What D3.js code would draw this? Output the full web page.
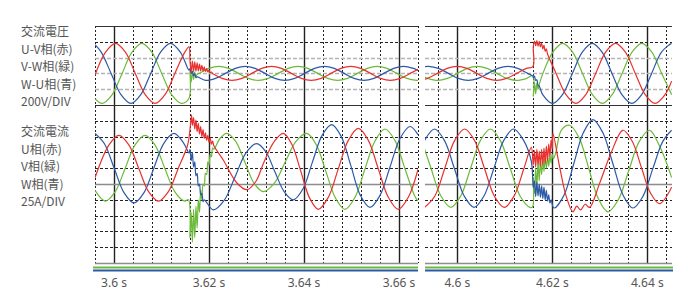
<!DOCTYPE html>
<html><head><meta charset="utf-8">
<script src="https://cdn.jsdelivr.net/npm/d3@7"></script>
<style>body{margin:0;background:#fff}svg{display:block}</style>
</head><body><svg id="c" width="688" height="300"></svg>
<script>
// ---------- DATA (time in s, voltage in V, current in A) ----------
const voltageLabels = ["交流電圧","U-V相(赤)","V-W相(緑)","W-U相(青)","200V/DIV"];
const currentLabels = ["交流電流","U相(赤)","V相(緑)","W相(青)","25A/DIV"];
const tickLabelsLeft = [3.60,3.62,3.64,3.66];
const tickLabelsRight = [4.60,4.62,4.64];

// Left window, voltages
const vUV_L = [[3.5960,-21],[3.59823,269],[3.60032,380],[3.60240,269],[3.60448,0],[3.60657,-269],[3.60865,-380],[3.61074,-269],[3.61282,0],[3.61491,269],[3.61579,335],
[3.61600,164],[3.61625,17],[3.61650,157],[3.61675,24],[3.61700,147],[3.61725,29],[3.61750,134],[3.61775,31],[3.61800,119],[3.61825,31],[3.61850,102],[3.61875,29],[3.61900,83],[3.61925,25],[3.61950,62],[3.61975,19],[3.62000,39],[3.62025,10],[3.62050,17],[3.62075,-1],[3.62100,-10],
[3.62276,-63],[3.62484,-89],[3.62693,-63],[3.62901,0],[3.63109,63],[3.63318,89],[3.63526,63],[3.63735,0],[3.63943,-63],[3.64152,-89],[3.64360,-63],[3.64568,0],[3.64777,63],[3.64985,89],[3.65194,63],[3.65402,0],[3.65611,-63],[3.65819,-89],[3.66027,-63],[3.66236,0],[3.66400,52]];
const vVW_L = [[3.5960,-319],[3.59754,-380],[3.59962,-269],[3.60171,0],[3.60379,269],[3.60587,380],[3.60796,269],[3.61004,0],[3.61213,-269],[3.61421,-380],[3.61579,-315],
[3.61600,40],[3.61625,-110],[3.61650,25],[3.61675,-75],[3.61700,15],[3.61725,-45],[3.61750,-10],
[3.61789,0],[3.61998,63],[3.62206,89],[3.62415,63],[3.62623,0],[3.62831,-63],[3.63040,-89],[3.63248,-63],[3.63457,0],[3.63665,63],[3.63874,89],[3.64082,63],[3.64290,0],[3.64499,-63],[3.64707,-89],[3.64916,-63],[3.65124,0],[3.65332,63],[3.65541,89],[3.65749,63],[3.65958,0],[3.66166,-63],[3.66375,-89],[3.66400,-89]];
const vWU_L = [[3.5960,363],[3.59731,269],[3.59939,0],[3.60147,-269],[3.60356,-380],[3.60564,-269],[3.60773,0],[3.60981,269],[3.61189,380],[3.61397,269],[3.61579,40],
[3.61600,60],[3.61625,0],[3.61650,30],[3.61675,-30],[3.61700,-5],[3.61725,-55],[3.61750,-45],
[3.61928,-89],[3.62137,-63],[3.62345,0],[3.62554,63],[3.62762,89],[3.62971,63],[3.63179,0],[3.63387,-63],[3.63596,-89],[3.63804,-63],[3.64013,0],[3.64221,63],[3.64429,89],[3.64638,63],[3.64846,0],[3.65055,-63],[3.65263,-89],[3.65471,-63],[3.65680,0],[3.65888,63],[3.66097,89],[3.66305,63],[3.66400,38]];

// Left window, currents
const iU_L = [[3.5960,-15],[3.59895,37],[3.60103,52],[3.60312,37],[3.60520,0],[3.60728,-37],[3.60937,-52],[3.61145,-37],[3.61354,0],[3.61540,34],[3.61579,48],[3.61611,70],[3.61632,84],
[3.6165,68],[3.61675,80],[3.617,62],[3.61725,76],[3.6175,58],[3.61775,71],[3.618,54],[3.61825,66],[3.6185,50],[3.61875,61],[3.619,47],[3.61925,56],[3.6195,44],[3.61975,52],[3.62,41],[3.62025,48],[3.6205,38],[3.62075,43],[3.621,36],
[3.62301,13],[3.62583,-23],[3.62794,-34],[3.62986,-21],[3.63158,10],[3.63372,42],[3.63564,55],[3.63748,37],[3.63933,-5],[3.64117,-47],[3.64301,-65],[3.64512,-46],[3.64722,-1],[3.64933,44],[3.65143,63],[3.65354,44],[3.65564,-1],[3.65775,-46],[3.65985,-65],[3.66196,-46],[3.664,-2]];
const iV_L = [[3.5960,-35],[3.59819,-52],[3.60027,-37],[3.60236,0],[3.60444,37],[3.60653,52],[3.60861,37],[3.61069,0],[3.61278,-37],[3.61486,-52],[3.61568,-50],
[3.6160,-110],[3.61625,-70],[3.6165,-117],[3.61675,-65],[3.617,-110],[3.61725,-60],[3.6175,-95],[3.61775,-50],[3.618,-70],[3.61825,-35],[3.6185,-50],[3.61875,-25],[3.619,-28],[3.61925,-8],[3.6195,-10],[3.61975,10],[3.62,5],[3.62025,22],[3.6205,18],[3.62075,32],[3.621,30],
[3.62232,47],[3.62373,55],[3.62565,42],[3.62758,9],[3.62951,-24],[3.63143,-37],[3.63372,-24],[3.636,9],[3.63828,42],[3.64057,55],[3.64259,37],[3.6446,-5],[3.64661,-47],[3.64863,-65],[3.65074,-46],[3.65284,-1],[3.65495,43],[3.65705,62],[3.65914,44],[3.66122,0],[3.66331,-44],[3.664,-52]];
const iW_L = [[3.5960,55],[3.59796,39],[3.60004,0],[3.60213,-39],[3.60421,-55],[3.60629,-39],[3.60838,0],[3.61046,39],[3.61263,55],[3.61472,39],[3.61579,24],
[3.616,30],[3.61625,12],[3.6165,25],[3.61675,2],[3.617,10],[3.61725,-12],[3.6175,-8],[3.61775,-28],[3.618,-25],[3.61825,-42],[3.6185,-40],[3.61875,-53],[3.619,-50],
[3.62091,-66],[3.62319,-51],[3.62547,-14],[3.62776,24],[3.63004,39],[3.63197,26],[3.63389,-6],[3.63582,-37],[3.63775,-50],[3.63977,-33],[3.64179,10],[3.64381,52],[3.64583,69],[3.64785,50],[3.64986,4],[3.65187,-43],[3.65389,-62],[3.656,-43],[3.65811,2],[3.66021,47],[3.66232,66],[3.664,53]];

// Right window, voltages
const vUV_R = [[4.59312,-75],[4.59371,-63],[4.59579,0],[4.59787,63],[4.59996,89],[4.60204,63],[4.60413,0],[4.60621,-63],[4.60829,-89],[4.61038,-63],[4.61246,0],[4.61455,63],[4.61592,86],
[4.616,340],[4.61625,410],[4.6165,350],[4.61675,415],[4.617,345],[4.61725,405],[4.6175,335],[4.61775,385],[4.618,310],[4.61825,355],[4.6185,280],[4.61875,310],[4.619,245],
[4.6208,0],[4.62288,-269],[4.62497,-380],[4.62705,-269],[4.62914,0],[4.63122,269],[4.63331,380],[4.63539,269],[4.63747,0],[4.63956,-269],[4.64164,-380],[4.64373,-269],[4.64512,-98]];
const vVW_R = [[4.59312,-46],[4.59377,-63],[4.59585,-89],[4.59794,-63],[4.60002,0],[4.60211,63],[4.60419,89],[4.60627,63],[4.60836,0],[4.61044,-63],[4.61253,-89],[4.61461,-63],[4.61592,-28],
[4.616,-290],[4.61625,-110],[4.6165,-260],[4.61675,-120],[4.617,-200],[4.61725,-140],
[4.61802,0],[4.62011,269],[4.62219,380],[4.62427,269],[4.62636,0],[4.62844,-269],[4.63053,-380],[4.63261,-269],[4.63469,0],[4.63678,269],[4.63886,380],[4.64095,269],[4.64303,0],[4.64512,-269]];
const vWU_R = [[4.59312,85],[4.59396,89],[4.59604,63],[4.59813,0],[4.60021,-63],[4.60229,-89],[4.60438,-63],[4.60646,0],[4.60855,63],[4.61063,89],[4.61272,63],[4.6148,0],[4.61592,-36],
[4.616,-55],[4.61625,-35],[4.6165,-90],[4.61675,-80],[4.617,-150],[4.61725,-160],
[4.61798,-269],[4.62006,-380],[4.62215,-269],[4.62423,0],[4.62632,269],[4.6284,380],[4.63048,269],[4.63257,0],[4.63465,-269],[4.63674,-380],[4.63882,-269],[4.64091,0],[4.64299,269],[4.64507,380],[4.64512,380]];

// Right window, currents
const iU_R = [[4.59312,-62],[4.59528,-44],[4.59737,0],[4.59945,44],[4.60154,62],[4.60362,44],[4.60571,0],[4.60779,-44],[4.60987,-62],[4.61196,-44],[4.61404,0],[4.61558,33],
[4.616,5],[4.61625,28],[4.6165,2],[4.61675,30],[4.617,5],[4.61725,27],[4.6175,3],[4.61775,30],[4.618,6],[4.61825,32],[4.6185,8],[4.61875,35],[4.619,12],[4.61925,38],[4.6195,18],[4.61975,45],[4.62,30],[4.62013,55],
[4.62154,2],[4.62295,-45],[4.62434,-69],[4.62515,-60],[4.62596,-66],[4.6269,-57],[4.62785,-62],[4.62996,-24],[4.63241,25],[4.63486,60],[4.6368,43],[4.63873,2],[4.64065,-39],[4.64259,-56],[4.64512,-30]];
const iV_R = [[4.59312,30],[4.59446,0],[4.59655,-44],[4.59863,-62],[4.60072,-44],[4.6028,0],[4.60488,44],[4.60697,62],[4.60905,44],[4.61114,0],[4.61322,-44],[4.61531,-62],[4.61585,-61],
[4.616,-15],[4.61625,-40],[4.6165,0],[4.61675,-30],[4.617,10],[4.61725,-20],[4.6175,12],[4.61775,-10],[4.618,15],[4.61825,-5],[4.6185,17],[4.61875,0],[4.619,18],[4.61925,3],[4.6195,20],[4.61975,8],[4.62,22],[4.62025,15],[4.62075,25],
[4.62189,60],[4.62364,68],[4.62566,48],[4.62767,0],[4.62968,-48],[4.63171,-69],[4.63389,-50],[4.63609,-4],[4.63829,42],[4.64048,60],[4.64259,35],[4.64512,-15]];
const iW_R = [[4.59312,44],[4.5952,62],[4.59728,44],[4.59937,0],[4.60145,-44],[4.60354,-62],[4.60562,-44],[4.60771,0],[4.60979,44],[4.61187,62],[4.61396,44],[4.61558,11],
[4.616,-31],[4.61625,-20],[4.6165,-45],[4.61675,-22],[4.617,-44],[4.61725,-25],[4.6175,-46],[4.61775,-28],[4.618,-48],[4.61825,-30],[4.6185,-50],[4.61875,-35],[4.619,-52],[4.61925,-42],[4.6195,-55],[4.61975,-50],
[4.62013,-61],[4.62048,-63],[4.62251,-42],[4.62452,7],[4.62653,56],[4.62855,77],[4.63065,56],[4.63276,7],[4.63486,-42],[4.63697,-63],[4.63905,-45],[4.64115,-1],[4.64324,42],[4.64512,60]];

// ---------- DRAWING ----------
const svg = d3.select("#c");
const RED="#e8302e", GREEN="#6cba3a", BLUE="#2c59a7";
const plotTop=26, plotBottom=263, plotMid=105;
const yV = d3.scaleLinear().domain([-400,600]).range([plotMid, plotTop]);   // 200 V/div
const yI = d3.scaleLinear().domain([-150,100]).range([plotBottom, plotMid]); // 25 A/div

const panels = [
  {x: d3.scaleLinear().domain([3.596,3.664]).range([95,418]), gridStart:3.596, gridEnd:3.664, labels: tickLabelsLeft,
   v:[vVW_L,vWU_L,vUV_L], i:[iV_L,iW_L,iU_L], axis:[93,418]},
  {x: d3.scaleLinear().domain([4.5932,4.6452]).range([425,672]), gridStart:4.596, gridEnd:4.644, labels: tickLabelsRight,
   v:[vVW_R,vWU_R,vUV_R], i:[iV_R,iW_R,iU_R], axis:[425,673]}
];
const colors=[GREEN,BLUE,RED];

const hLines = [
  {y:yV(600), s:"solid"},{y:yV(400), s:"dash"},{y:yV(200), s:"grey"},{y:yV(0), s:"grey"},{y:yV(-200), s:"grey"},
  {y:yV(-400), s:"solid"},
  {y:yI(75), s:"dash"},{y:yI(50), s:"dash"},{y:yI(25), s:"dash"},{y:yI(0), s:"dash"},{y:yI(-25), s:"greysolid"},
  {y:yI(-50), s:"dash"},{y:yI(-75), s:"dash"},{y:yI(-100), s:"dash"},{y:yI(-125), s:"dash"},{y:yI(-150), s:"greysolid"}
];
const hStyle = {
  solid:{stroke:"#333", w:1.2, d:null},
  dash:{stroke:"#222", w:1, d:"3,2"},
  grey:{stroke:"#b4b4b4", w:1.6, d:"4,2"},
  greysolid:{stroke:"#8c8c8c", w:1.3, d:null}
};

panels.forEach((p,pi)=>{
  const g = svg.append("g");
  const [x0,x1] = p.x.range();
  const n = Math.round((p.gridEnd-p.gridStart)/0.004);
  for(let k=0;k<=n;k++){
    const t = +(p.gridStart + k*0.004).toFixed(3);
    const major = Math.abs(t*50 - Math.round(t*50))<1e-6;
    const xx = Math.round(p.x(t))+0.5;
    g.append("line").attr("x1",xx).attr("x2",xx)
      .attr("y1",plotTop).attr("y2",plotBottom)
      .attr("stroke","#222").attr("stroke-width", major?1.4:1)
      .attr("stroke-dasharray", major?null:"2,2");
  }
  hLines.forEach(h=>{
    const st=hStyle[h.s];
    g.append("line").attr("x1",x0).attr("x2",x1).attr("y1",Math.round(h.y)+0.5).attr("y2",Math.round(h.y)+0.5)
      .attr("stroke",st.stroke).attr("stroke-width",st.w).attr("stroke-dasharray",st.d);
  });
  const cid="clip"+pi;
  svg.append("clipPath").attr("id",cid).append("rect").attr("x",x0).attr("y",plotTop).attr("width",x1-x0).attr("height",plotBottom-plotTop);
  const lineV = d3.line().x(d=>p.x(d[0])).y(d=>yV(d[1])).curve(d3.curveCatmullRom.alpha(0.5));
  const lineI = d3.line().x(d=>p.x(d[0])).y(d=>yI(d[1])).curve(d3.curveCatmullRom.alpha(0.5));
  const tg = svg.append("g").attr("clip-path",`url(#${cid})`);
  p.v.forEach((s,si)=> tg.append("path").attr("d",lineV(s)).attr("fill","none").attr("stroke",colors[si]).attr("stroke-width",1.2));
  p.i.forEach((s,si)=> tg.append("path").attr("d",lineI(s)).attr("fill","none").attr("stroke",colors[si]).attr("stroke-width",1.2));
  svg.append("line").attr("x1",p.axis[0]).attr("x2",p.axis[1]).attr("y1",267.5).attr("y2",267.5).attr("stroke",GREEN).attr("stroke-width",2);
  svg.append("line").attr("x1",p.axis[0]).attr("x2",p.axis[1]).attr("y1",270.5).attr("y2",270.5).attr("stroke",BLUE).attr("stroke-width",2);
  svg.append("g").selectAll("text").data(p.labels).join("text")
    .attr("x",d=>p.x(d)).attr("y",287).attr("text-anchor","middle")
    .attr("font-family","'Noto Sans', 'DejaVu Sans', sans-serif").attr("font-size",12).attr("fill","#555")
    .text(d=>`${+d.toFixed(2)} s`);
});

const lab = svg.append("g").attr("font-family","'Noto Sans CJK JP', sans-serif").attr("font-size",12).attr("fill","#555");
lab.selectAll("text.v").data(voltageLabels).join("text").attr("class","v")
  .attr("x",21).attr("y",(d,i)=>36+i*17.6).text(d=>d);
lab.selectAll("text.i").data(currentLabels).join("text").attr("class","i")
  .attr("x",21).attr("y",(d,i)=>136+i*17.6).text(d=>d);
</script></body></html>
